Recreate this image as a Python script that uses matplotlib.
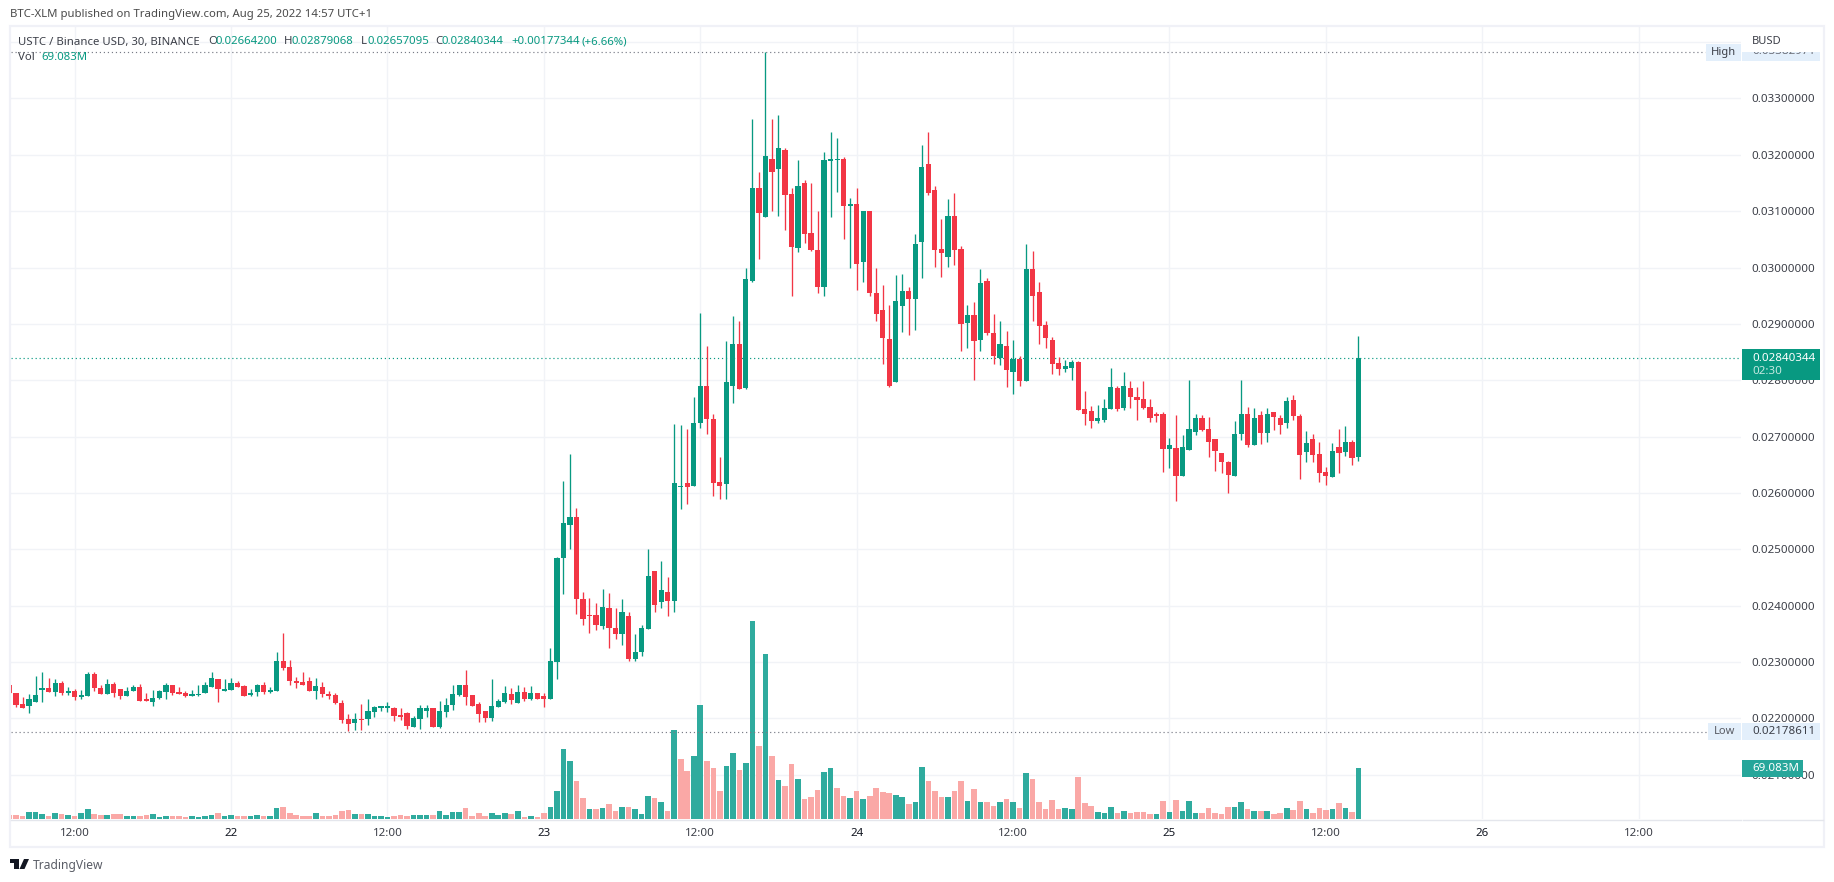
import matplotlib
matplotlib.use("Agg")
import matplotlib.pyplot as plt
from matplotlib.patches import Rectangle, Polygon
from matplotlib.lines import Line2D

PRICE_UNIT = 1e-5  # price arrays below are in units of 0.00001 BUSD

open_ = [
2260,2245,2226,2222,2229,2251,2254,2247,2263,2245,
2249,2238,2240,2279,2254,2244,2261,2252,2240,2249,
2256,2233,2229,2236,2247,2260,2247,2245,2240,2241,
2245,2256,2270,2249,2251,2263,2258,2242,2247,2260,
2247,2249,2301,2292,2267,2265,2267,2249,2256,2244,
2242,2227,2199,2192,2199,2199,2211,2219,2219,2219,
2206,2210,2185,2199,2213,2219,2185,2211,2224,2242,
2260,2242,2226,2213,2201,2220,2229,2244,2227,2247,
2235,2245,2240,2235,2300,2485,2544,2557,2411,2384,
2384,2363,2395,2361,2349,2381,2306,2317,2359,2461,
2407,2425,2409,2610,2617,2612,2724,2790,2731,2620,
2615,2790,2865,2786,2977,3141,3089,3193,3175,3209,
3130,3034,3150,3061,3032,2965,3189,3190,3193,3109,
3112,3009,3100,2954,2925,2873,2797,2932,2959,2945,
3046,3183,3137,3033,3019,3092,3033,2902,2916,2872,
2977,2884,2840,2861,2815,2838,2799,2998,2957,2898,
2872,2831,2820,2822,2833,2749,2746,2728,2730,2749,
2786,2751,2786,2770,2767,2753,2738,2740,2678,2680,
2630,2676,2708,2733,2713,2696,2671,2655,2630,2705,
2740,2685,2738,2706,2744,2733,2724,2765,2737,2673,
2696,2669,2637,2628,2681,2673,2690,2664.2]

close = [
2245,2224,2219,2235,2242,2254,2247,2263,2245,2249,
2238,2242,2279,2254,2244,2261,2245,2240,2249,2256,
2231,2231,2236,2249,2260,2245,2244,2240,2244,2244,
2260,2272,2252,2251,2263,2256,2240,2245,2260,2247,
2251,2301,2290,2267,2263,2260,2249,2258,2244,2240,
2227,2197,2190,2199,2197,2213,2220,2221,2222,2204,
2202,2186,2201,2219,2219,2185,2213,2224,2244,2260,
2238,2222,2208,2201,2222,2231,2245,2233,2247,2235,
2245,2235,2235,2301,2485,2546,2557,2411,2377,2381,
2366,2398,2361,2350,2388,2306,2318,2361,2452,2402,
2427,2409,2617,2613,2610,2724,2790,2731,2617,2613,
2797,2865,2785,2979,3141,3096,3198,3169,3212,3129,
3036,3145,3059,3031,2965,3191,3193,3191,3109,3112,
3006,3100,2954,2918,2875,2790,2941,2959,2945,3041,
3179,3133,3032,3025,3092,3032,2900,2916,2870,2973,
2884,2843,2865,2818,2838,2799,2998,2950,2897,2875,
2829,2820,2825,2833,2747,2740,2728,2733,2751,2788,
2749,2790,2770,2765,2751,2733,2737,2678,2685,2630,
2681,2713,2733,2712,2690,2674,2655,2632,2705,2740,
2685,2733,2706,2740,2735,2721,2763,2737,2667,2689,
2667,2635,2630,2674,2671,2690,2662,2840.344]

high = [
2260,2245,2238,2244,2276,2283,2272,2270,2267,2256,
2252,2251,2283,2283,2260,2269,2265,2252,2256,2260,
2261,2245,2251,2251,2263,2260,2256,2249,2251,2260,
2265,2283,2270,2269,2272,2267,2260,2252,2261,2265,
2256,2318,2351,2304,2274,2283,2274,2272,2265,2249,
2245,2233,2208,2210,2226,2235,2222,2222,2229,2220,
2219,2211,2204,2224,2224,2219,2231,2236,2260,2260,
2285,2242,2229,2213,2269,2235,2258,2254,2260,2256,
2258,2245,2245,2324,2487,2621,2669,2574,2425,2413,
2405,2430,2423,2395,2411,2388,2350,2365,2501,2461,
2480,2450,2722,2720,2713,2770,2920,2860,2740,2663,
2870,2914,2905,3000,3264,3169,3383,3264,3271,3212,
3141,3191,3155,3150,3100,3205,3241,3230,3196,3123,
3141,3100,3100,3000,2969,2934,2987,2989,2966,3060,
3217,3240,3144,3087,3121,3133,3039,2934,2939,2998,
2982,2918,2905,2888,2872,2843,3041,3030,2975,2905,
2877,2842,2836,2836,2834,2781,2754,2756,2767,2822,
2790,2815,2799,2788,2799,2767,2744,2744,2698,2738,
2703,2801,2740,2738,2735,2696,2671,2657,2728,2801,
2753,2751,2746,2751,2744,2738,2770,2774,2740,2710,
2705,2690,2646,2689,2713,2719,2694,2879.068]

low = [
2245,2220,2219,2210,2229,2229,2247,2240,2242,2242,
2233,2235,2240,2249,2244,2244,2238,2235,2240,2249,
2231,2231,2222,2235,2235,2242,2244,2238,2240,2240,
2245,2256,2229,2249,2251,2256,2240,2240,2240,2244,
2245,2249,2286,2260,2254,2260,2249,2235,2238,2235,
2226,2192,2177,2179,2179,2188,2202,2213,2211,2195,
2197,2181,2185,2181,2202,2185,2183,2202,2215,2240,
2224,2222,2194,2194,2195,2220,2227,2226,2227,2231,
2233,2235,2220,2235,2269,2421,2501,2386,2365,2352,
2357,2359,2325,2340,2331,2301,2301,2311,2359,2388,
2395,2382,2388,2571,2580,2612,2715,2705,2594,2590,
2590,2760,2785,2785,2975,3016,3089,3100,3091,3066,
2949,3027,3043,3029,2954,2949,3089,3134,3050,3000,
2961,2975,2949,2906,2829,2788,2797,2886,2881,2890,
2982,3129,3001,2984,3001,3005,2852,2858,2801,2852,
2881,2829,2827,2788,2776,2790,2799,2906,2865,2858,
2811,2810,2815,2801,2747,2721,2715,2724,2726,2749,
2745,2747,2751,2730,2749,2726,2726,2637,2644,2586,
2630,2676,2703,2710,2664,2639,2635,2600,2630,2694,
2681,2685,2687,2690,2712,2705,2715,2730,2625,2655,
2655,2619,2614,2628,2635,2665,2650,2657.095]

volume_m = [
5.8,5.8,4.5,9.9,9.9,7.2,4.5,8.5,7.2,5.8,
4.5,8.5,13.9,7.2,5.8,5.8,7.2,7.2,4.5,4.5,
4.5,5.8,7.2,3.1,4.5,4.5,4.5,3.1,4.5,3.1,
4.5,5.8,8.5,4.5,5.8,4.5,4.5,4.5,5.8,4.5,
4.5,15.3,16.6,8.5,5.8,4.5,4.5,8.5,4.5,4.5,
5.8,11.2,12.6,7.2,7.2,7.2,4.5,4.5,3.1,4.5,
5.8,4.5,5.8,5.8,5.8,5.8,11.2,5.8,9.9,9.9,
15.3,4.5,8.5,4.5,8.5,5.8,8.5,7.2,11.2,3.1,
4.5,3.1,8.5,16.6,38.1,94.7,78.5,51.6,28.7,13.9,
13.9,15.3,20.6,11.2,16.6,16.6,13.9,7.2,31.4,28.7,
23.3,11.2,120.2,81.2,65.0,85.2,153.9,78.5,69.1,38.1,
71.8,89.3,66.4,75.8,266.9,98.7,222.5,85.2,52.9,44.9,
74.5,54.3,27.4,30.1,39.5,63.7,69.1,42.2,31.4,28.7,
38.1,27.4,31.4,42.2,36.8,35.4,32.7,30.1,20.6,23.3,
70.4,51.6,38.1,30.1,30.1,38.1,51.6,24.7,40.8,23.3,
23.3,17.9,23.3,27.4,23.3,15.3,62.4,54.3,23.3,13.9,
26.0,13.9,15.3,13.9,57.0,22.0,17.9,9.9,8.5,16.6,
8.5,11.2,8.5,9.9,9.9,7.2,7.2,24.7,9.9,26.0,
11.2,24.7,8.5,8.5,15.3,8.5,7.2,16.6,16.6,23.3,
13.9,11.2,11.2,11.2,7.2,8.5,15.3,12.6,24.7,13.9,
8.5,15.3,12.6,13.9,22.0,15.3,9.9,69.083]

# doji bars whose volume colour differs from the candle colour
volume_colour_flipped = [89, 103, 127, 176]

time_tick_bars = [10, 34, 58, 82, 106, 130, 154, 178, 202, 226, 250]
time_tick_labels = ["12:00", "22", "12:00", "23", "12:00", "24", "12:00", "25", "12:00", "26", "12:00"]
price_ticks = [0.021, 0.022, 0.023, 0.024, 0.025, 0.026, 0.027, 0.028, 0.029, 0.030, 0.031, 0.032, 0.033]
price_tick_labels = ["0.02100000", "0.02200000", "0.02300000", "0.02400000", "0.02500000", "0.02600000",
                     "0.02700000", "0.02800000", "0.02900000", "0.03000000", "0.03100000", "0.03200000", "0.03300000"]

high_level = 0.03382971
low_level_drawn = 0.021765
last_price = 0.02840344

assert len(open_) == len(close) == len(high) == len(low) == len(volume_m) == 208

W, H = 1834, 882
FONT = "Noto Sans"
plt.rcParams["font.family"] = FONT
GREEN = "#089981"
RED = "#f23645"
VGREEN = "#2fab9e"
VPINK = "#faa8a6"
GRID = "#f1f3f7"
TXT = "#3c3f48"

fig = plt.figure(figsize=(W / 100, H / 100), dpi=100, facecolor="white")

L, R, T, B = 11, 1741, 27, 819
pos = [L / W, 1 - B / H, (R - L) / W, (B - T) / H]
ax_g = fig.add_axes(pos, zorder=0)
ax_v = fig.add_axes(pos, zorder=1, facecolor="none")
ax = fig.add_axes(pos, zorder=2, facecolor="none")

x = list(range(len(close)))
xlim = (0.23, 265.7)
price_per_px = 1e-3 / 56.35
ylim = (0.033 - (B - 98.5) * price_per_px, 0.033 + (98.5 - T) * price_per_px)

# grid, underneath everything
ax_g.set_xlim(*xlim)
ax_g.set_ylim(*ylim)
ax_g.set_xticks(time_tick_bars)
ax_g.set_yticks(price_ticks + [0.034])
ax_g.tick_params(axis="both", length=0, labelbottom=False, labelleft=False)
ax_g.grid(True, color=GRID, linewidth=1.0)
for s in ax_g.spines.values():
    s.set_visible(False)

# volume
up = [c >= o for o, c in zip(open_, close)]
v_cols = []
for i, u in enumerate(up):
    if i in volume_colour_flipped:
        u = not u
    v_cols.append(VGREEN if u else VPINK)
ax_v.bar(x, volume_m, width=0.86, color=v_cols, linewidth=0)
ax_v.set_xlim(*xlim)
ax_v.set_ylim(0, 1066)
ax_v.axis("off")

# candles
cols = [GREEN if u else RED for u in up]
o_p = [v * PRICE_UNIT for v in open_]
c_p = [v * PRICE_UNIT for v in close]
h_p = [v * PRICE_UNIT for v in high]
l_p = [v * PRICE_UNIT for v in low]
ax.vlines(x, l_p, h_p, colors=cols, linewidth=0.95, zorder=3)
body_bottom = [min(a, b) for a, b in zip(o_p, c_p)]
body_height = [max(abs(a - b), 1.5 * price_per_px) for a, b in zip(o_p, c_p)]
ax.bar(x, body_height, bottom=body_bottom, width=0.8, color=cols, linewidth=0, zorder=4)

# levels
ax.axhline(last_price, color=GREEN, linestyle=(0, (1, 2.4)), linewidth=0.85, zorder=2)
ax.plot([0.23, 260.2], [high_level, high_level], color="#787b86", linestyle=(0, (1, 2.4)), linewidth=0.85, zorder=2)
ax.plot([0.23, 260.5], [low_level_drawn, low_level_drawn], color="#787b86", linestyle=(0, (1, 2.4)), linewidth=0.85, zorder=5)

ax.set_xlim(*xlim)
ax.set_ylim(*ylim)
ax.set_xticks(time_tick_bars)
ax.set_xticklabels(time_tick_labels)
ax.set_yticks(price_ticks)
ax.set_yticklabels(price_tick_labels)
ax.yaxis.tick_right()
ax.tick_params(axis="both", length=0, labelsize=8.3, labelcolor=TXT)
ax.tick_params(axis="x", pad=6.5)
ax.tick_params(axis="y", pad=7.8)
for lab in ax.get_xticklabels():
    if ":" not in lab.get_text():
        lab.set_color("#131722")
for s in ax.spines.values():
    s.set_visible(False)


def fx(px):
    return px / W


def fy(py):
    return 1 - py / H


def text(px, py, s, color=TXT, size=8.3, ha="left", va="center", **kw):
    return fig.text(fx(px), fy(py), s, color=color, fontsize=size, ha=ha, va=va, zorder=20, **kw)


def rect(x0, y0, x1, y1, color, z=10, **kw):
    p = Rectangle((fx(x0), fy(y1)), (x1 - x0) / W, (y1 - y0) / H, transform=fig.transFigure,
                  facecolor=color, edgecolor="none", zorder=z, **kw)
    fig.add_artist(p)
    return p


def line(x0, y0, x1, y1, color, lw=1.0, z=9):
    fig.add_artist(Line2D([fx(x0), fx(x1)], [fy(y0), fy(y1)], color=color, linewidth=lw, zorder=z,
                          transform=fig.transFigure))


# outer frame and axis line
fig.add_artist(Rectangle((fx(10), fy(847)), (1824 - 10) / W, (847 - 26) / H, transform=fig.transFigure,
                         facecolor="none", edgecolor="#f0f1f7", linewidth=1.6, zorder=8))
line(11, 819.5, 1741, 819.5, "#e4e6ec", 1.0)
line(1743, 819.5, 1823, 819.5, "#e4e6ec", 1.0)

# header and legend
text(10, 15, "BTC-XLM published on TradingView.com, Aug 25, 2022 14:57 UTC+1", color="#4a4a4a", size=8.2)
LEG = 8.2
text(18, 42, "USTC / Binance USD, 30, BINANCE", size=LEG)
for xp, lbl, xv, val in [(208, "O", 216, "0.02664200"), (284, "H", 292, "0.02879068"),
                         (361, "L", 367, "0.02657095"), (435, "C", 442, "0.02840344")]:
    text(xp, 42, lbl, size=LEG)
    text(xv, 42, val, color=GREEN, size=LEG)
text(511, 42, "+0.00177344", color=GREEN, size=LEG)
text(582, 42, "(+6.66%)", color=GREEN, size=LEG)
text(18, 58, "Vol", size=LEG)
text(41, 58, "69.083M", color=GREEN, size=LEG)

# price-scale labels
text(1752, 41, "BUSD", size=8.0)
rect(1706, 44, 1741, 61, "#e3effb", z=10)
text(1723.5, 52.5, "High", ha="center", size=8.0)
rect(1742, 52, 1820, 61, "#e3effb", z=10)
clip = rect(1742, 52, 1820, 61, "none", z=10)
t = text(1752, 52, "0.03382971", color="#6b6e78", size=8.3)
t.set_clip_path(clip)

rect(1708, 723, 1741, 740, "#e3effb", z=10)
text(1724.5, 732, "Low", ha="center", color="#5a5d66", size=8.0)
rect(1742, 723, 1820, 740, "#e3effb", z=10)
text(1752, 732, "0.02178611", size=8.3)

rect(1742, 349, 1820, 380, GREEN, z=10)
text(1752, 358, "0.02840344", color="white", size=8.3, fontweight="bold")
text(1752, 372, "02:30", color="#c4e8e0", size=8.3)

rect(1742, 760, 1803, 777, "#26a69a", z=10)
text(1752, 768.5, "69.083M", color="white", size=8.3, fontweight="bold")

# TradingView mark
LOGO = "#131722"
rect(10, 859, 18, 863, LOGO, z=11)
rect(14, 859, 19, 869, LOGO, z=11)
fig.add_artist(Polygon([(fx(24), fy(859)), (fx(29), fy(859)), (fx(24.5), fy(869)), (fx(19.5), fy(869))],
                       transform=fig.transFigure, facecolor=LOGO, edgecolor="none", zorder=11))
text(33, 865, "TradingView", color="#5a5d66", size=8.7)

fig.savefig("out.png", dpi=100, facecolor="white")
